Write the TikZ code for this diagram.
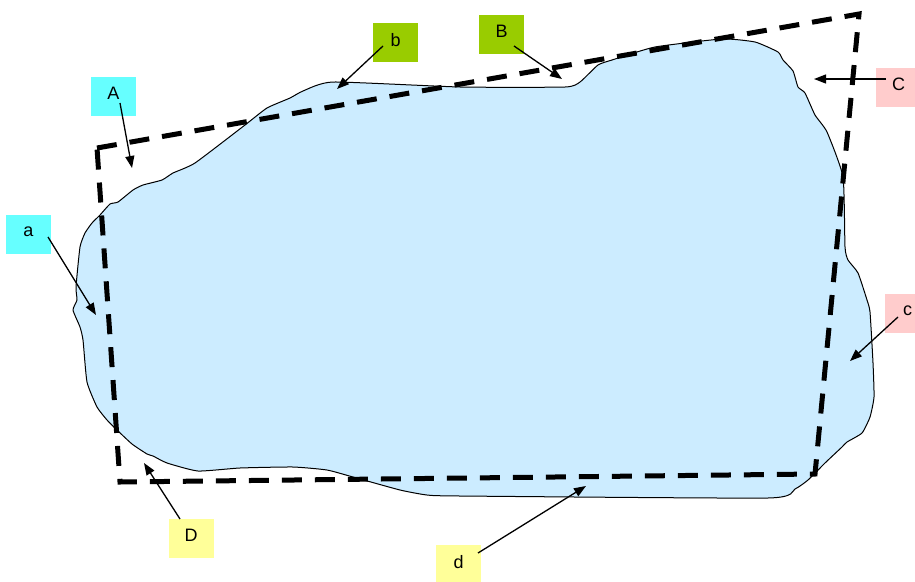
\documentclass[tikz,border=0pt]{standalone}
\usepackage{fontspec}
\setmainfont{Liberation Sans}
\usetikzlibrary{arrows.meta}
\definecolor{lake}{HTML}{CCECFF}
\definecolor{tcyan}{HTML}{66FFFF}
\definecolor{tgreen}{HTML}{99CC00}
\definecolor{tpink}{HTML}{FFCCCC}
\definecolor{tyell}{HTML}{FFFF99}
\tikzset{tag/.style={minimum width=45pt, minimum height=39pt, inner sep=0pt, text depth=6pt, font=\fontsize{18}{18}\selectfont},
  ptr/.style={line width=1.3pt, -{Triangle[length=12pt,width=9pt]}},
  fence/.style={line width=5pt, dash pattern=on 20pt off 13pt, line join=miter}}

\begin{document}
\begin{tikzpicture}[x=1pt, y=-1pt, line join=round]
  \useasboundingbox (0,0) rectangle (915,581);
  % the region itself
  \draw[fill=lake, line width=1pt] plot[smooth cycle, tension=0.3] coordinates {
     (76,287) (80,247) (85,233) (92,223) (100,215) (110,204) (118,202) (133,190) (143,185) (162,180)
     (173,173) (195,163) (245,125) (267,108) (290,98) (303,91) (333,82) (460,87) (565,87) (580,82)
     (598,65) (612,60) (655,47) (722,39) (755,42) (778,52) (783,60) (793,71) (798,87) (805,93)
     (815,115) (827,132) (843,177) (845,247) (848,260) (858,273) (867,300) (870,312) (873,363) (874,397)
     (870,417) (862,433) (847,442) (842,447) (825,463) (808,480) (795,489) (768,498) (460,496) (427,495)
     (400,490) (353,477) (327,470) (293,467) (240,468) (198,471) (167,463) (153,456) (147,454) (132,444)
     (117,430) (107,420) (97,407) (87,382) (83,340) (80,327) (73,310) (77,300)};
  % dashed frame
  \draw[fence] (97,148) -- (859,14) -- (815,474) -- (120,482) -- cycle;
  % labels
  \foreach \n/\c/\p in {A/tcyan/{113.5,96.5}, a/tcyan/{28.5,234.5}, b/tgreen/{395.5,42.5}, B/tgreen/{501.5,34.5},
      C/tpink/{898.5,87.5}, c/tpink/{907.5,313.5}, D/tyell/{191,538.5}, d/tyell/{458.5,564.5}}
     \node[tag, fill=\c] (\n) at (\p) {\n};
  % pointers
  \foreach \n/\s/\t in {A/{6.5,6.5}/{132,168}, a/{19.5,2.5}/{96,315}, b/{-12.5,3.5}/{337,89}, B/{12.5,11.5}/{562,79},
      C/{-12.5,-8.5}/{814,79}, c/{-9.5,3.5}/{850,361}, D/{-11,-19.5}/{144,463}, d/{19.5,-11.5}/{586,486}}{
     \coordinate (t\n) at (\t);
     \draw[ptr] ([shift={(\s)}]\n.center) -- (t\n);}
\end{tikzpicture}
\end{document}
